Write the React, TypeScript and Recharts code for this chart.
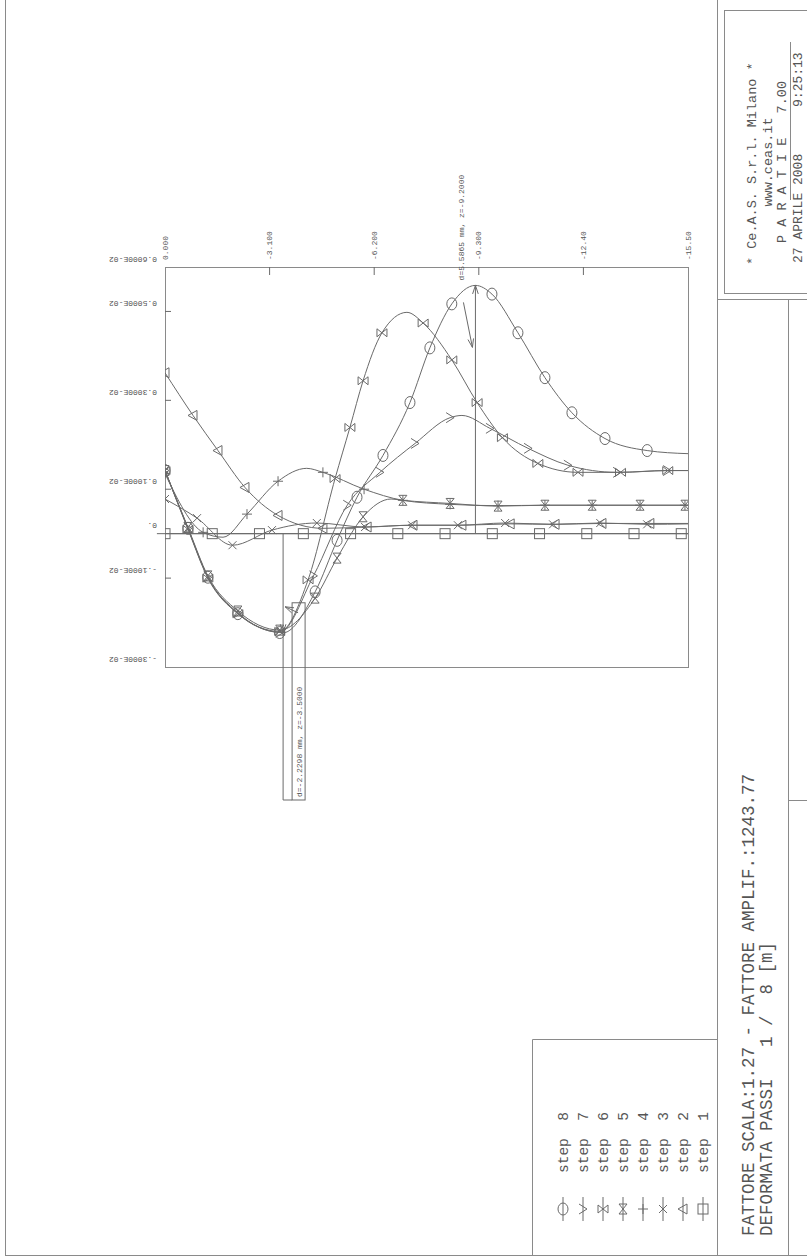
import React from "react";
import { LineChart, Line, XAxis, YAxis, ReferenceLine, ReferenceDot } from "recharts";

const W = 807;
const H = 1257;
const PLOT_LEFT = 165;
const PLOT_RIGHT = 688;
const PLOT_TOP = 267;
const PLOT_BOTTOM = 667;
const X_AXIS_H = 30;
const Y_AXIS_W = 60;
const INK = "#6a6a6a";
const TXT = "#555";
const FONT = "'Liberation Mono', 'DejaVu Sans Mono', monospace";

// axes
const depthTicks = [0, -3.1, -6.2, -9.3, -12.4, -15.5];
const depthLabels = ["0.000", "-3.100", "-6.200", "-9.300", "-12.40", "-15.50"];
const dispTicks = [0.006, 0.005, 0.003, 0.001, 0, -0.001, -0.003];
const dispLabels = ["0.6000E-02", "0.5000E-02", "0.3000E-02", "0.1000E-02", "0.", "-.1000E-02", "-.3000E-02"];

// marker points of each step: depth z [m], displacement [mm]
const step1Z = [0, -1.4, -2.8, -4.1, -5.5, -6.9, -8.3, -9.7, -11.1, -12.5, -13.9, -15.3];
const step1U = [0, 0, 0, 0, 0, 0, 0, 0, 0, 0, 0, 0];
const step2Z = [0, -0.83, -1.57, -2.37, -3.35, -4.68, -5.99, -7.35, -8.8, -10.23, -11.56, -12.95, -14.37];
const step2U = [3.62, 2.66, 1.87, 1.04, 0.41, 0.12, 0.15, 0.19, 0.19, 0.22, 0.21, 0.23, 0.23];
const step3Z = [0, -0.95, -2.0, -3.17, -4.5, -5.93, -7.32, -8.68, -10.08, -11.5, -12.9, -14.29];
const step3U = [0.78, 0.35, -0.26, 0.08, 0.24, 0.15, 0.19, 0.19, 0.24, 0.21, 0.24, 0.21];
const step4Z = [0, -1.13, -2.43, -3.35, -4.68, -5.9, -7.05, -8.45, -9.87, -11.26, -12.66, -14.08, -15.41];
const step4U = [1.35, 0.03, 0.44, 1.18, 1.38, 1.0, 0.75, 0.66, 0.63, 0.64, 0.64, 0.64, 0.64];
const step5Z = [0, -0.68, -1.27, -2.16, -3.4, -4.45, -5.1, -5.87, -7.05, -8.45, -9.87, -11.26, -12.66, -14.08, -15.41];
const step5U = [1.42, 0.14, -0.95, -1.74, -2.17, -1.45, -0.55, 0.38, 0.75, 0.68, 0.62, 0.64, 0.64, 0.64, 0.64];
const step6Z = [0, -0.68, -1.27, -2.16, -3.4, -4.24, -5.04, -5.48, -5.87, -6.43, -7.65, -8.5, -9.25, -10.0, -11.05, -12.24, -13.5, -14.9];
const step6U = [1.42, 0.1, -1.0, -1.8, -2.2, -1.04, 1.24, 2.39, 3.44, 4.52, 4.74, 3.91, 2.95, 2.16, 1.58, 1.38, 1.38, 1.42];
const step7Z = [0, -0.68, -1.27, -2.16, -3.4, -4.4, -5.4, -6.37, -7.41, -8.45, -9.63, -10.76, -11.94, -13.4, -14.88];
const step7U = [1.42, 0.12, -0.98, -1.78, -2.22, -0.95, 0.64, 1.38, 2.03, 2.61, 2.37, 1.92, 1.54, 1.38, 1.42];
const step8Z = [0, -0.68, -1.27, -2.16, -3.4, -4.45, -5.1, -5.69, -6.46, -7.26, -7.85, -8.5, -9.69, -10.46, -11.26, -12.06, -13.04, -14.29];
const step8U = [1.42, 0.12, -0.98, -1.8, -2.225, -1.31, -0.15, 0.82, 1.76, 2.95, 4.18, 5.17, 5.39, 4.52, 3.51, 2.72, 2.14, 1.87];

// extra curve points without marker (extremes, wall toe)
const step1ExtraZ = [-15.5];
const step1ExtraU = [0];
const step2ExtraZ = [-15.5];
const step2ExtraU = [0.23];
const step3ExtraZ = [-15.5];
const step3ExtraU = [0.22];
const step4ExtraZ = [-1.72, -4.2, -15.5];
const step4ExtraU = [-0.08, 1.47, 0.64];
const step5ExtraZ = [-6.7, -15.5];
const step5ExtraU = [0.78, 0.64];
const step6ExtraZ = [-7.17, -15.5];
const step6ExtraU = [4.98, 1.42];
const step7ExtraZ = [-8.8, -15.5];
const step7ExtraU = [2.66, 1.42];
const step8ExtraZ = [-3.5, -9.2, -15.5];
const step8ExtraU = [-2.2298, 5.5865, 1.8];

const maxZ = -9.2;
const maxU = 5.5865;
const minZ = -3.5;
const minU = -2.2298;

type Kind = "square" | "triangle" | "cross" | "plus" | "hourglass" | "bowtie" | "chevron" | "circle";

const pts = (zs: number[], us: number[]) => zs.map((z, i) => ({ z, u: us[i] / 1000 }));
const curve = (zs: number[], us: number[], ez: number[], eu: number[]) =>
  [...pts(zs, us), ...pts(ez, eu)].sort((a, b) => b.z - a.z);

const series: { name: string; n: number; kind: Kind; markers: { z: number; u: number }[]; line: { z: number; u: number }[] }[] = [
  { name: "step 1", n: 1, kind: "square", markers: pts(step1Z, step1U), line: curve(step1Z, step1U, step1ExtraZ, step1ExtraU) },
  { name: "step 2", n: 2, kind: "triangle", markers: pts(step2Z, step2U), line: curve(step2Z, step2U, step2ExtraZ, step2ExtraU) },
  { name: "step 3", n: 3, kind: "cross", markers: pts(step3Z, step3U), line: curve(step3Z, step3U, step3ExtraZ, step3ExtraU) },
  { name: "step 4", n: 4, kind: "plus", markers: pts(step4Z, step4U), line: curve(step4Z, step4U, step4ExtraZ, step4ExtraU) },
  { name: "step 5", n: 5, kind: "hourglass", markers: pts(step5Z, step5U), line: curve(step5Z, step5U, step5ExtraZ, step5ExtraU) },
  { name: "step 6", n: 6, kind: "bowtie", markers: pts(step6Z, step6U), line: curve(step6Z, step6U, step6ExtraZ, step6ExtraU) },
  { name: "step 7", n: 7, kind: "chevron", markers: pts(step7Z, step7U), line: curve(step7Z, step7U, step7ExtraZ, step7ExtraU) },
  { name: "step 8", n: 8, kind: "circle", markers: pts(step8Z, step8U), line: curve(step8Z, step8U, step8ExtraZ, step8ExtraU) },
];

const marker = (kind: Kind, cx: number, cy: number) => {
  const s = { fill: "none", stroke: INK, strokeWidth: 1 };
  switch (kind) {
    case "square":
      return <rect x={cx - 5} y={cy - 5} width={10} height={10} {...s} />;
    case "triangle":
      return <path d={`M${cx - 5},${cy}L${cx + 4},${cy - 5}L${cx + 4},${cy + 5}Z`} {...s} />;
    case "cross":
      return <path d={`M${cx - 4},${cy - 4}L${cx + 4},${cy + 4}M${cx - 4},${cy + 4}L${cx + 4},${cy - 4}`} {...s} />;
    case "plus":
      return <path d={`M${cx - 5},${cy}L${cx + 5},${cy}M${cx},${cy - 5}L${cx},${cy + 5}`} {...s} />;
    case "hourglass":
      return <path d={`M${cx - 4},${cy - 5}L${cx + 4},${cy - 5}L${cx - 4},${cy + 5}L${cx + 4},${cy + 5}Z`} {...s} />;
    case "bowtie":
      return <path d={`M${cx - 5},${cy - 4}L${cx - 5},${cy + 4}L${cx + 5},${cy - 4}L${cx + 5},${cy + 4}Z`} {...s} />;
    case "chevron":
      return <path d={`M${cx - 4},${cy - 5}L${cx + 4},${cy}L${cx - 4},${cy + 5}`} {...s} />;
    default:
      return <ellipse cx={cx} cy={cy} rx={5} ry={6} {...s} />;
  }
};

const near = (arr: number[], v: number) => arr.findIndex((t) => Math.abs(t - v) < 1e-9);

const depthTick = (props: any) => {
  const { x, payload } = props;
  const i = near(depthTicks, payload.value);
  const inner = i > 0 && i < depthTicks.length - 1;
  return (
    <g key={`dt-${i}`}>
      {inner && <line x1={x} x2={x} y1={PLOT_TOP} y2={PLOT_TOP + 8} stroke={INK} />}
      <text transform={`translate(${x + 2.5},${PLOT_TOP - 7}) rotate(-90)`} fontSize={8} fontFamily={FONT} fill={TXT}>
        {depthLabels[i]}
      </text>
    </g>
  );
};

const dispTick = (props: any) => {
  const { y, payload } = props;
  const i = near(dispTicks, payload.value);
  const v = payload.value;
  const inner = v < 0.006 && v > -0.003 && Math.abs(v) > 1e-9;
  return (
    <g key={`yt-${i}`}>
      {inner && <line x1={PLOT_LEFT} x2={PLOT_LEFT + 6} y1={y} y2={y} stroke={INK} />}
      <text transform={`translate(157,${y - 10.5}) rotate(180)`} fontSize={8} fontFamily={FONT} fill={TXT}>
        {dispLabels[i]}
      </text>
    </g>
  );
};

const arrowHead = (x1: number, y1: number, x2: number, y2: number) => {
  // open head at (x2, y2)
  const a = Math.atan2(y2 - y1, x2 - x1);
  const l = 9;
  const w = 0.32;
  const p1 = [x2 - l * Math.cos(a - w), y2 - l * Math.sin(a - w)];
  const p2 = [x2 - l * Math.cos(a + w), y2 - l * Math.sin(a + w)];
  return <polyline points={`${p1[0]},${p1[1]} ${x2},${y2} ${p2[0]},${p2[1]}`} fill="none" stroke={INK} />;
};

const MaxNote = (props: any) => {
  const { cx, cy } = props;
  return (
    <g>
      {arrowHead(cx, cy + 40, cx, cy)}
      <line x1={cx - 12} y1={cy + 17} x2={cx - 3} y2={cy + 62} stroke={INK} />
      {arrowHead(cx - 12, cy + 17, cx - 3, cy + 62)}
      <text transform={`translate(${cx - 11.5},${cy - 5}) rotate(-90)`} fontSize={8} fontFamily={FONT} fill={TXT}>
        {`d=${maxU.toFixed(4)} mm, z=${maxZ.toFixed(4)}`}
      </text>
    </g>
  );
};

const MinNote = (props: any) => {
  const { cx, cy } = props;
  const bottom = 800;
  return (
    <g>
      {arrowHead(cx, cy - 40, cx, cy)}
      <line x1={cx} y1={cy} x2={cx} y2={bottom} stroke={INK} />
      <rect x={cx + 9} y={cy - 30} width={13} height={bottom - (cy - 30)} fill="none" stroke={INK} />
      <line x1={cx} y1={bottom} x2={cx + 9} y2={bottom} stroke={INK} />
      <line x1={cx + 15} y1={cy - 20} x2={cx + 2} y2={cy - 26} stroke={INK} />
      {arrowHead(cx + 15, cy - 20, cx + 2, cy - 26)}
      <text transform={`translate(${cx + 18.5},${bottom - 3}) rotate(-90)`} fontSize={8} fontFamily={FONT} fill={TXT}>
        {`d=${minU.toFixed(4)} mm, z=${minZ.toFixed(4)}`}
      </text>
    </g>
  );
};

const vText = (x: number, y: number, size: number, s: string, anchor: "start" | "middle" = "start") => (
  <text
    transform={`translate(${x},${y}) rotate(-90)`}
    fontSize={size}
    fontFamily={FONT}
    fill={TXT}
    textAnchor={anchor}
    xmlSpace="preserve"
    style={{ whiteSpace: "pre" }}
  >
    {s}
  </text>
);

const Page = () => (
  <svg width={W} height={H} style={{ position: "absolute", left: 0, top: 0 }}>
    <g stroke="#8a8a8a" fill="none" strokeWidth={1}>
      <line x1={5.5} y1={0} x2={5.5} y2={1256} />
      <line x1={5} y1={1255.5} x2={807} y2={1255.5} />
      <line x1={717.5} y1={0} x2={717.5} y2={1256} />
      <rect x={724.5} y={10.5} width={100} height={283} />
      <line x1={717} y1={299.5} x2={807} y2={299.5} />
      <line x1={788.5} y1={299.5} x2={788.5} y2={1256} />
      <line x1={788.5} y1={800.5} x2={807} y2={800.5} />
      <line x1={790.5} y1={42} x2={790.5} y2={200} />
      <line x1={532.5} y1={1039.5} x2={532.5} y2={1256} />
      <line x1={532.5} y1={1039.5} x2={717.5} y2={1039.5} />
      <rect x={PLOT_LEFT + 0.5} y={PLOT_TOP + 0.5} width={PLOT_RIGHT - PLOT_LEFT} height={PLOT_BOTTOM - PLOT_TOP} />
    </g>
    {vText(756, 265, 13.5, "* Ce.A.S. S.r.l. Milano *")}
    {vText(771.5, 162, 13.5, "www.ceas.it", "middle")}
    {vText(786, 162, 13.5, "P A R A T I E   7.00", "middle")}
    {vText(802, 263, 13, "27 APRILE 2008      9:25:13")}
    {vText(754, 1236, 17.5, "FATTORE SCALA:1.27 - FATTORE AMPLIF.:1243.77")}
    {vText(772, 1236, 17.5, "DEFORMATA PASSI   1 /  8 [m]")}
    {series.map((s) => {
      const x = 703 - 20 * (s.n - 1);
      return (
        <g key={s.name}>
          <line x1={x} x2={x} y1={1197} y2={1221} stroke={INK} />
          {marker(s.kind, x, 1209)}
          {vText(x + 4.5, 1173, 14.5, `step  ${s.n}`)}
        </g>
      );
    })}
  </svg>
);

export default function App() {
  return (
    <div style={{ position: "absolute", left: 0, top: 0, width: W, height: H, background: "#fff" }}>
      <Page />
      <div style={{ position: "absolute", left: 0, top: 0 }}>
        <LineChart
          width={W}
          height={H}
          margin={{
            top: PLOT_TOP - X_AXIS_H,
            right: W - PLOT_RIGHT,
            bottom: H - PLOT_BOTTOM,
            left: PLOT_LEFT - Y_AXIS_W,
          }}
        >
          <XAxis
            dataKey="z"
            type="number"
            orientation="top"
            domain={[-15.5, 0]}
            reversed
            allowDataOverflow
            ticks={depthTicks}
            interval={0}
            height={X_AXIS_H}
            axisLine={false}
            tickLine={false}
            tick={depthTick}
          />
          <YAxis
            type="number"
            domain={[-0.003, 0.006]}
            allowDataOverflow
            ticks={dispTicks}
            interval={0}
            width={Y_AXIS_W}
            axisLine={false}
            tickLine={false}
            tick={dispTick}
          />
          <ReferenceLine
            segment={[{ x: 0.24, y: 0 }, { x: -15.5, y: 0 }]}
            ifOverflow="visible"
            stroke={INK}
          />
          <ReferenceLine
            segment={[{ x: maxZ, y: 0 }, { x: maxZ, y: maxU / 1000 }]}
            stroke={INK}
          />
          <ReferenceLine
            segment={[{ x: minZ, y: 0 }, { x: minZ, y: minU / 1000 }]}
            stroke={INK}
          />
          {series.map((s) => (
            <Line
              key={`l-${s.name}`}
              data={s.line}
              dataKey="u"
              type="monotone"
              stroke={INK}
              strokeWidth={1}
              dot={false}
              activeDot={false}
              legendType="none"
              isAnimationActive={false}
            />
          ))}
          {series.map((s) => (
            <Line
              key={`m-${s.name}`}
              data={s.markers}
              dataKey="u"
              stroke="none"
              dot={(p: any) => <g key={`${s.name}-${p.index}`}>{marker(s.kind, p.cx, p.cy)}</g>}
              activeDot={false}
              legendType="none"
              isAnimationActive={false}
            />
          ))}
          <ReferenceDot x={maxZ} y={maxU / 1000} r={0} ifOverflow="visible" shape={(p: any) => <MaxNote {...p} />} />
          <ReferenceDot x={minZ} y={minU / 1000} r={0} ifOverflow="visible" shape={(p: any) => <MinNote {...p} />} />
        </LineChart>
      </div>
    </div>
  );
}
